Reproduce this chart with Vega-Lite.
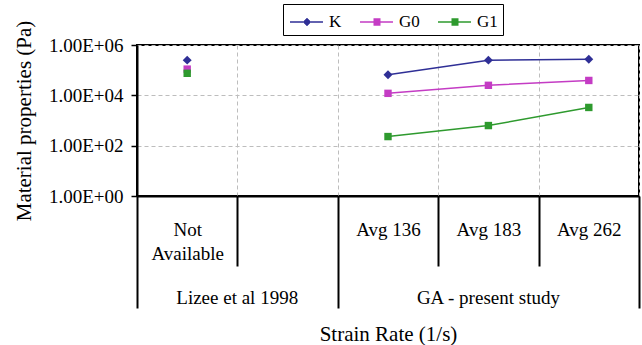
{
  "$schema": "https://vega.github.io/schema/vega-lite/v6.json",
  "width": 502,
  "height": 151,
  "autosize": "none",
  "padding": {"left": 137, "top": 45, "right": 3, "bottom": 149},
  "background": "white",
  "config": {
    "font": "Liberation Serif",
    "view": {"stroke": "black", "strokeWidth": 2},
    "axis": {
      "labelFont": "Liberation Serif",
      "titleFont": "Liberation Serif",
      "labelColor": "black",
      "titleColor": "black",
      "titleFontWeight": "normal",
      "labelFontSize": 19,
      "titleFontSize": 21
    }
  },
  "data": {
    "values": [
      {"study": "Lizee", "cat": "Not Available", "series": "K", "value": 250000},
      {"study": "Lizee", "cat": "Not Available", "series": "G0", "value": 110000},
      {"study": "Lizee", "cat": "Not Available", "series": "G1", "value": 75000},
      {"study": "GA", "cat": "Avg 136", "series": "K", "value": 66000},
      {"study": "GA", "cat": "Avg 183", "series": "K", "value": 250000},
      {"study": "GA", "cat": "Avg 262", "series": "K", "value": 270000},
      {"study": "GA", "cat": "Avg 136", "series": "G0", "value": 12000},
      {"study": "GA", "cat": "Avg 183", "series": "G0", "value": 25000},
      {"study": "GA", "cat": "Avg 262", "series": "G0", "value": 39000},
      {"study": "GA", "cat": "Avg 136", "series": "G1", "value": 230},
      {"study": "GA", "cat": "Avg 183", "series": "G1", "value": 630},
      {"study": "GA", "cat": "Avg 262", "series": "G1", "value": 3300}
    ]
  },
  "encoding": {
    "y": {
      "field": "value",
      "type": "quantitative",
      "scale": {"type": "log", "domain": [1, 1000000], "nice": false},
      "axis": {
        "title": "Material properties (Pa)",
        "values": [1, 100, 10000, 1000000],
        "labelExpr": "'1.00E+' + (round(log(datum.value)/LN10) < 10 ? '0' : '') + round(log(datum.value)/LN10)",
        "grid": true,
        "gridColor": "#bdbdbd",
        "gridDash": [4, 3],
        "domainColor": "black",
        "domainWidth": 2,
        "tickColor": "black",
        "tickWidth": 1.5,
        "tickSize": 6,
        "labelPadding": 8,
        "titlePadding": 14
      }
    },
    "color": {
      "field": "series",
      "type": "nominal",
      "title": null,
      "scale": {"domain": ["K", "G0", "G1"], "range": ["#2f2f96", "#c43cc4", "#2e9a2e"]},
      "legend": {
        "orient": "none",
        "legendX": 146,
        "legendY": -41,
        "direction": "horizontal",
        "strokeColor": "black",
        "fillColor": "white",
        "padding": 5,
        "symbolSize": 576,
        "symbolStrokeWidth": 1.5,
        "symbolOpacity": 1,
        "labelFont": "Liberation Serif",
        "labelFontSize": 17,
        "labelColor": "black",
        "labelOffset": 15,
        "columnPadding": 14
      }
    }
  },
  "layer": [
    {
      "mark": {"type": "point", "filled": false, "opacity": 0, "strokeWidth": 1.5},
      "encoding": {
        "x": {
          "field": "cat",
          "type": "nominal",
          "sort": ["Not Available", "gap", "Avg 136", "Avg 183", "Avg 262"],
          "scale": {"domain": ["Not Available", "gap", "Avg 136", "Avg 183", "Avg 262"], "paddingInner": 0, "paddingOuter": 0},
          "axis": {
            "orient": "bottom",
            "title": "Strain Rate (1/s)",
            "values": ["Not Available", "Avg 183"],
            "ticks": false,
            "tickSize": 0,
            "domain": false,
            "grid": false,
            "labelAngle": 0,
            "labelBaseline": "top",
            "labelExpr": "datum.value === 'Not Available' ? 'Lizee et al  1998' : 'GA - present study'",
            "labelOffset": {"condition": {"test": "datum.value === 'Not Available'", "value": 50}, "value": 0},
            "labelPadding": 92,
            "titlePadding": 16
          }
        },
        "shape": {
          "field": "series",
          "type": "nominal",
          "title": null,
          "scale": {
            "domain": ["K", "G0", "G1"],
            "range": [
              "M-0.917,0H1.833M0.25,-0.083H0.75M0.333,-0.167H0.667M0.417,-0.25H0.583M0.25,0.083H0.75M0.333,0.167H0.667M0.417,0.25H0.583",
              "M-0.917,0H1.833M0.208,-0.25H0.792M0.208,-0.167H0.792M0.208,-0.083H0.792M0.208,0.083H0.792M0.208,0.167H0.792M0.208,0.25H0.792",
              "M-0.917,0H1.833M0.208,-0.25H0.792M0.208,-0.167H0.792M0.208,-0.083H0.792M0.208,0.083H0.792M0.208,0.167H0.792M0.208,0.25H0.792"
            ]
          },
          "legend": {
            "orient": "none",
            "legendX": 146,
            "legendY": -41,
            "direction": "horizontal",
            "strokeColor": "black",
            "fillColor": "white",
            "padding": 5,
            "symbolSize": 576,
            "symbolStrokeWidth": 1.5,
            "symbolOpacity": 1,
            "labelFont": "Liberation Serif",
            "labelFontSize": 17,
            "labelColor": "black",
            "labelOffset": 15,
            "columnPadding": 14
          }
        }
      }
    },
    {
      "transform": [{"filter": "datum.study === 'GA'"}],
      "mark": {"type": "line", "strokeWidth": 1.5},
      "encoding": {
        "x": {
          "field": "cat",
          "type": "nominal",
          "sort": ["Not Available", "gap", "Avg 136", "Avg 183", "Avg 262"],
          "axis": {
            "orient": "bottom",
            "title": null,
            "tickBand": "extent",
            "grid": true,
            "gridColor": "#bdbdbd",
            "gridDash": [4, 3],
            "gridWidth": 1,
            "domainColor": "black",
            "domainWidth": 2,
            "tickColor": "black",
            "tickWidth": 2,
            "tickSize": {"condition": {"test": "datum.extra || datum.value === 'gap' || datum.value === 'Avg 262'", "value": 112}, "value": 70},
            "labelPadding": {"condition": {"test": "datum.extra || datum.value === 'gap' || datum.value === 'Avg 262'", "value": -88}, "value": -46},
            "labelAngle": 0,
            "labelAlign": "center",
            "labelBaseline": "top",
            "labelLineHeight": 24,
            "labelExpr": "datum.value === 'Not Available' ? ['Not', 'Available'] : (datum.value === 'gap' ? '' : datum.value)"
          }
        }
      }
    },
    {
      "transform": [{"filter": "datum.series === 'K'"}],
      "mark": {"type": "point", "shape": "diamond", "filled": true, "size": 80, "opacity": 1},
      "encoding": {
        "x": {"field": "cat", "type": "nominal", "sort": ["Not Available", "gap", "Avg 136", "Avg 183", "Avg 262"], "axis": null}
      }
    },
    {
      "transform": [{"filter": "datum.series !== 'K'"}],
      "mark": {"type": "point", "shape": "square", "filled": true, "size": 55, "opacity": 1},
      "encoding": {
        "x": {"field": "cat", "type": "nominal", "sort": ["Not Available", "gap", "Avg 136", "Avg 183", "Avg 262"], "axis": null}
      }
    }
  ],
  "resolve": {"axis": {"x": "independent"}}
}
